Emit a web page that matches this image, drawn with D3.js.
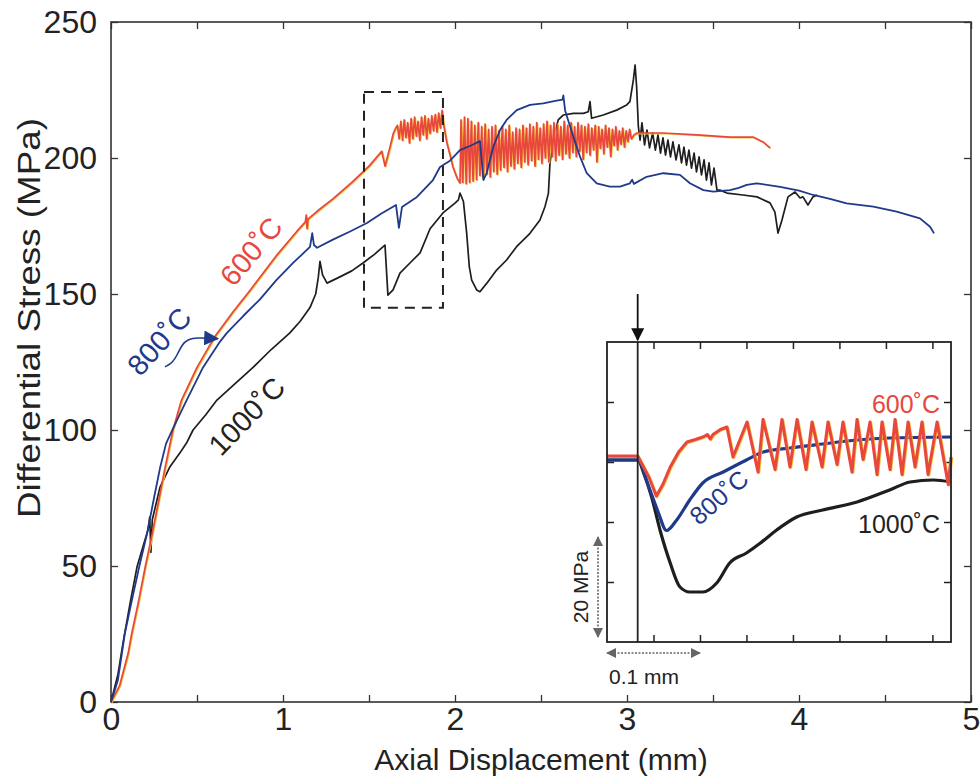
<!DOCTYPE html>
<html><head><meta charset="utf-8">
<script src="https://cdn.jsdelivr.net/npm/d3@7"></script>
<style>
body{margin:0;background:#fff}
text{font-family:"Liberation Sans",Arial,Helvetica,sans-serif}
</style></head>
<body><svg id="c" width="980" height="779"></svg>
<script>
// ---------- axis definitions ----------
const xTicks = [0,0.5,1,1.5,2,2.5,3,3.5,4,4.5,5];
const xLabelTicks = [0,1,2,3,4,5];
const yTicks = [0,50,100,150,200,250];
const xTitle = "Axial Displacement (mm)";
const yTitle = "Differential Stress (MPa)";

// ---------- main series: [displacement mm, stress MPa] ----------
const red600 = [
[0,0],[0.05,6],[0.1,18],[0.12,25],[0.16,37],[0.2,50],[0.24,62],[0.28,75],[0.314,86],[0.36,100],
[0.41,111],[0.5,123],[0.605,134.5],[0.71,143.5],[0.81,151.5],[0.96,164],[1.08,173],[1.13,176.5],
[1.135,179],[1.14,174],[1.145,177.5],[1.2,180.5],[1.29,185],[1.4,191],[1.5,197],[1.574,202.5],
[1.593,197],[1.622,204],[1.641,209],[1.655,211],
[1.665,212],[1.675,207],[1.685,213.5],[1.695,206.5],[1.705,214],[1.715,207.5],[1.725,213],[1.735,205.5],
[1.745,214.5],[1.755,207],[1.765,215],[1.775,208],[1.785,213.5],[1.795,206.5],[1.805,215],[1.815,208.5],
[1.825,215.5],[1.835,207],[1.845,214.5],[1.855,209],[1.865,215.5],[1.875,210],[1.885,216],[1.895,209.5],
[1.905,216.5],[1.915,211],[1.925,217.5],[1.932,213],
[1.953,205.5],[1.971,201.1],[1.988,196.7],[2.012,192.6],[2.029,190.8],
[2.035,214],[2.045,191],[2.055,215],[2.065,190.5],[2.075,214.5],[2.085,191],[2.095,213.5],[2.105,191.5],
[2.115,212],[2.125,192],[2.135,213],[2.145,193.5],[2.155,211.5],[2.165,192.5],[2.175,212.5],[2.185,194],
[2.195,210.5],[2.205,193],[2.215,211.5],[2.225,195],[2.235,212],[2.245,194],[2.255,210],[2.265,195.5],
[2.275,211.5],[2.285,196.5],[2.295,210.5],[2.305,195],[2.315,212],[2.325,197],[2.335,209.5],[2.345,196],
[2.355,211],[2.365,198],[2.375,210.5],[2.385,196.5],[2.395,212],[2.405,198.5],[2.415,211],[2.425,197.5],
[2.435,212.5],[2.445,199],[2.455,211.5],[2.465,197],[2.475,213],[2.485,199.5],[2.495,211],[2.505,198],
[2.515,212.5],[2.525,200],[2.535,213.5],[2.545,198.5],[2.555,212],[2.565,200.5],[2.575,213],[2.585,199],
[2.595,212.5],[2.605,201],[2.615,211.5],[2.625,199.5],[2.635,213.5],[2.645,201.5],[2.655,212],[2.665,200],
[2.675,213],[2.685,202],[2.695,211.5],[2.705,200.5],[2.715,213],[2.725,202.5],[2.735,212],[2.745,199.5],
[2.755,211.5],[2.765,202],[2.775,212.5],[2.785,201],[2.795,211],[2.805,203],[2.815,212],[2.825,198.5],
[2.835,211.5],[2.845,203.5],[2.855,210.5],[2.865,201.5],[2.875,212],[2.885,204],[2.895,211],[2.905,200.5],
[2.915,210.5],[2.925,204.5],[2.935,211.5],[2.945,203],[2.955,210],[2.965,205],[2.975,211],[2.985,204],
[2.995,210],[3.005,206],[3.015,210.5],[3.025,207],
[3.04,208.5],[3.058,209.2],[3.209,209.2],[3.407,208.5],[3.599,207.7],[3.733,207.7],[3.791,205.9],[3.831,203.7]
];
const blue800 = [
[0,0],[0.04,8],[0.08,25],[0.12,37],[0.165,50],[0.21,62],[0.25,75],[0.285,86],[0.32,95],[0.36,100.5],
[0.44,111],[0.535,123],[0.634,132.5],[0.674,135.7],[0.77,142],[0.866,148],[0.96,155],[1.06,161.5],[1.157,167.3],
[1.17,172.4],[1.18,168],[1.198,167],[1.29,170],[1.39,173],[1.488,176.1],[1.57,179.5],[1.657,182.7],[1.674,174.3],
[1.692,182],[1.779,185.7],[1.872,191.9],[1.913,196.7],[1.971,199],[2.029,202.9],[2.09,204.5],[2.145,206.2],
[2.165,191.9],[2.184,194.4],[2.223,204.2],[2.262,210.3],[2.3,214],[2.359,217.6],[2.436,219.5],[2.513,220.1],
[2.591,221.1],[2.625,221.5],[2.63,223],[2.64,217.5],[2.688,207.8],[2.727,200.5],[2.766,194.4],[2.824,190.7],
[2.9,189.5],[2.959,189.5],[3.017,190.7],[3.03,192],[3.04,190.5],[3.114,193.1],[3.211,194.4],[3.308,193.8],
[3.366,190.7],[3.444,188.2],[3.502,187.6],[3.599,188.2],[3.65,189],[3.696,190.1],[3.754,190.7],[3.89,189.4],
[4.0,188],[4.083,186.4],[4.18,185],[4.277,183.3],[4.432,182.1],[4.568,180.3],[4.703,177.8],[4.762,174.7],[4.785,172.3]
];
const black1000 = [
[0,0],[0.04,10],[0.07,21.7],[0.11,36],[0.151,49.6],[0.19,58],[0.215,63.2],[0.225,68],[0.232,55],[0.24,67],
[0.285,79],[0.343,86.5],[0.4,91.5],[0.442,95.5],[0.477,100],[0.55,105.5],[0.616,111],[0.72,117],[0.826,123],
[0.93,129.5],[1.04,135.7],[1.1,140],[1.157,145],[1.19,150],[1.205,156],[1.215,162],[1.23,157],[1.256,154],
[1.331,156.3],[1.4,158.5],[1.465,161.4],[1.53,164.5],[1.581,167.3],[1.593,168],[1.61,149.6],[1.64,151.5],
[1.68,157.7],[1.738,161.4],[1.797,165.1],[1.855,174],[1.93,179.8],[2.0,183.4],[2.02,184.6],[2.029,187.1],
[2.049,184],[2.068,172.3],[2.083,160.1],[2.097,155.1],[2.126,151.5],[2.145,150.8],[2.184,153.9],[2.242,158.8],
[2.3,162.5],[2.358,167.4],[2.436,172.3],[2.494,177.2],[2.523,182.1],[2.543,187],[2.552,198],[2.571,206.6],
[2.6,214],[2.629,215.8],[2.688,216.4],[2.746,216.4],[2.775,217],[2.785,220.7],[2.794,214.6],[2.862,215.8],
[2.94,217.6],[2.998,219.5],[3.017,220.7],[3.037,228.7],[3.047,234.2],[3.056,226.2],[3.066,211.5],[3.076,206.6],
[3.087,212.9],[3.102,204.8],[3.116,210.3],[3.131,203.7],[3.149,209.2],[3.165,202.9],[3.18,208.5],[3.195,201.8],
[3.209,207.4],[3.224,201.1],[3.238,206.6],[3.253,200.4],[3.267,205.9],[3.285,199.3],[3.302,204.8],[3.317,198.2],
[3.331,204],[3.346,197.4],[3.36,202.9],[3.375,196.3],[3.39,201.8],[3.404,194.9],[3.419,200.4],[3.433,193.8],
[3.448,199.3],[3.462,191.9],[3.477,198.2],[3.491,190.1],[3.506,196.3],[3.523,188.2],[3.541,188.2],[3.581,187.1],
[3.674,186.4],[3.756,185.7],[3.831,183.5],[3.86,180.1],[3.878,172.4],[3.901,177.2],[3.936,185.7],[3.977,187.5],
[4.006,185.3],[4.023,185.7],[4.052,182.7],[4.081,185.7],[4.105,186.4]
];

// ---------- inset series: [relative displacement mm, relative stress MPa] ----------
const insetXTicks = [0.05,0.1,0.15,0.2,0.25,0.3,0.35];
const insetYTicks = [12,24,36,48];
const insetOnset = 0.033;
const insetRed = [
[0,37.2],[0.033,37.2],[0.045,33],[0.053,29.2],[0.06,31.5],[0.068,35],[0.077,38],[0.086,40],[0.095,40.5],
[0.103,41],[0.108,41.5],[0.111,40.6],[0.114,41.5],[0.122,42.5],[0.129,43],[0.1355,37],[0.1506,44],[0.1624,34],
[0.1678,44.5],[0.1807,34.5],[0.1882,44.5],[0.1968,35],[0.2044,44.5],[0.214,34.5],[0.2205,44],[0.2313,35],
[0.2377,44],[0.2474,35.5],[0.2538,44],[0.2635,34],[0.2689,44.5],[0.2754,36.5],[0.2829,44],[0.2904,33.5],
[0.2958,44],[0.3044,34.5],[0.3098,44.5],[0.3173,33.5],[0.3238,44],[0.3313,35],[0.3388,44],[0.3453,33.5],
[0.355,44],[0.367,31.5],[0.37,37]
];
const insetBlue = [
[0,36.4],[0.033,36.4],[0.045,31],[0.055,26],[0.064,22.3],[0.075,24.4],[0.089,28.4],[0.103,31.8],[0.125,34],
[0.15,36.4],[0.168,38],[0.197,38.8],[0.232,39.6],[0.269,40.4],[0.304,40.8],[0.37,41]
];
const insetBlack = [
[0,36.4],[0.033,36.4],[0.04,33.5],[0.048,29],[0.057,22.4],[0.068,15.8],[0.0785,11],[0.089,10],[0.103,10],
[0.118,11.8],[0.132,15.8],[0.15,17.8],[0.165,19.8],[0.1825,22.4],[0.204,25],[0.232,26.4],[0.269,28],
[0.304,30.4],[0.326,32],[0.351,32.4],[0.37,32]
];

// annotations (data coordinates)
const zoomBox = {x0:1.471, x1:1.930, y0:144.9, y1:224.3};
const labels = [
 {t:"600˚C", x:0.826, y:165.1, rot:-50, c:"#e8473d"},
 {t:"800˚C", x:0.291, y:132, rot:-48, c:"#1f3a8a"},
 {t:"1000˚C", x:0.8, y:104.5, rot:-46, c:"#222"}
];
const leader800 = [[0.314,123.2],[0.36,124.8],[0.39,128.3],[0.413,131.3],[0.445,133.3],[0.5,134],[0.62,133.6]];

const RED="#e8473d", YEL="#f3c13a", BLUE="#1f3a8a", BLK="#1e1e1e";

// ---------- draw ----------
const svg = d3.select("#c");
const L=111,R=971,T=22,B=702;
const x = d3.scaleLinear().domain([0,5]).range([L,R]);
const y = d3.scaleLinear().domain([0,250]).range([B,T]);

const defs = svg.append("defs");
function marker(id,color,w,h){
  defs.append("marker").attr("id",id).attr("viewBox","0 0 10 10").attr("refX",9).attr("refY",5)
   .attr("markerWidth",w).attr("markerHeight",h).attr("orient","auto-start-reverse").attr("markerUnits","userSpaceOnUse")
   .append("path").attr("d","M0,0 L10,5 L0,10 z").attr("fill",color);
}
marker("arrBlue",BLUE,15,15);
marker("arrBlk","#111",13,16);
marker("arrGray","#666",11,10);

// axes (ticks inward)
const fontTick = "32px";
const gx = svg.append("g").attr("transform",`translate(0,${B})`)
  .call(d3.axisBottom(x).tickValues(xTicks).tickSize(-7).tickPadding(5)
  .tickFormat(d=> xLabelTicks.includes(d)? d3.format("d")(d):""));
const gxt = svg.append("g").attr("transform",`translate(0,${T})`)
  .call(d3.axisTop(x).tickValues(xTicks).tickSize(-7).tickFormat(""));
const gy = svg.append("g").attr("transform",`translate(${L},0)`)
  .call(d3.axisLeft(y).tickValues(yTicks).tickSize(-7).tickPadding(14));
const gyr = svg.append("g").attr("transform",`translate(${R},0)`)
  .call(d3.axisRight(y).tickValues(yTicks).tickSize(-7).tickFormat(""));
[gx,gxt,gy,gyr].forEach(g=>{
  g.select(".domain").remove();
  g.selectAll(".tick line").attr("stroke","#333").attr("stroke-width",1.3);
  g.selectAll("text").attr("font-size",fontTick).attr("fill","#222")
   .attr("font-family","'Liberation Sans',Arial,sans-serif");
});
svg.append("rect").attr("x",L).attr("y",T).attr("width",R-L).attr("height",B-T)
  .attr("fill","none").attr("stroke","#333").attr("stroke-width",1.6);

svg.append("text").attr("x",(L+R)/2).attr("y",770).attr("text-anchor","middle")
  .attr("font-size","30px").attr("fill","#222").text(xTitle);
svg.append("text").attr("transform",`translate(40,${318}) rotate(-90)`).attr("text-anchor","middle")
  .attr("font-size","32px").attr("textLength",400).attr("lengthAdjust","spacingAndGlyphs")
  .attr("fill","#222").text(yTitle);

const line = d3.line().x(d=>x(d[0])).y(d=>y(d[1]));

// main curves
svg.append("path").datum(black1000).attr("d",line).attr("fill","none").attr("stroke",BLK).attr("stroke-width",1.7).attr("stroke-linejoin","round");
svg.append("path").datum(red600).attr("d",line).attr("transform","translate(0.9,0.7)").attr("fill","none").attr("stroke",YEL).attr("stroke-width",1.4).attr("stroke-linejoin","round");
svg.append("path").datum(red600).attr("d",line).attr("fill","none").attr("stroke",RED).attr("stroke-width",1.7).attr("stroke-linejoin","round");
svg.append("path").datum(blue800).attr("d",line).attr("fill","none").attr("stroke",BLUE).attr("stroke-width",1.8).attr("stroke-linejoin","round");

// dashed zoom box
svg.append("rect").attr("x",x(zoomBox.x0)).attr("y",y(zoomBox.y1))
  .attr("width",x(zoomBox.x1)-x(zoomBox.x0)).attr("height",y(zoomBox.y0)-y(zoomBox.y1))
  .attr("fill","none").attr("stroke","#222").attr("stroke-width",2).attr("stroke-dasharray","10,7");

// labels
labels.forEach(l=>{
  svg.append("text").attr("transform",`translate(${x(l.x)},${y(l.y)}) rotate(${l.rot})`)
   .attr("text-anchor","middle").attr("dominant-baseline","middle").attr("font-size","29px").attr("fill",l.c).text(l.t);
});
svg.append("path").datum(leader800).attr("d",d3.line().x(d=>x(d[0])).y(d=>y(d[1])).curve(d3.curveBasis))
  .attr("fill","none").attr("stroke",BLUE).attr("stroke-width",1.6).attr("marker-end","url(#arrBlue)");

// ---------- inset ----------
const xi = d3.scaleLinear().domain([0,0.37]).range([607,951]);
const yi = d3.scaleLinear().domain([0,60]).range([642,342]);
svg.append("rect").attr("x",607).attr("y",342).attr("width",344).attr("height",300).attr("fill","#fff");
const ib = svg.append("g").attr("transform","translate(0,642)").call(d3.axisBottom(xi).tickValues(insetXTicks).tickSize(-7).tickFormat(""));
const it = svg.append("g").attr("transform","translate(0,342)").call(d3.axisTop(xi).tickValues(insetXTicks).tickSize(-7).tickFormat(""));
const il = svg.append("g").attr("transform","translate(607,0)").call(d3.axisLeft(yi).tickValues(insetYTicks).tickSize(-7).tickFormat(""));
const ir = svg.append("g").attr("transform","translate(951,0)").call(d3.axisRight(yi).tickValues(insetYTicks).tickSize(-7).tickFormat(""));
[ib,it,il,ir].forEach(g=>{g.select(".domain").remove();g.selectAll(".tick line").attr("stroke","#222").attr("stroke-width",1.5);});

const iline = d3.line().x(d=>xi(d[0])).y(d=>yi(d[1]));
const ismooth = d3.line().x(d=>xi(d[0])).y(d=>yi(d[1])).curve(d3.curveMonotoneX);
svg.append("path").datum(insetBlack).attr("d",ismooth).attr("fill","none").attr("stroke",BLK).attr("stroke-width",3.2).attr("stroke-linejoin","round");
svg.append("path").datum(insetBlue).attr("d",ismooth).attr("fill","none").attr("stroke",BLUE).attr("stroke-width",3.2).attr("stroke-linejoin","round");
svg.append("path").datum(insetRed).attr("d",iline).attr("transform","translate(0.8,0.6)").attr("fill","none").attr("stroke",YEL).attr("stroke-width",3).attr("stroke-linejoin","round");
svg.append("path").datum(insetRed).attr("d",iline).attr("fill","none").attr("stroke",RED).attr("stroke-width",3).attr("stroke-linejoin","round");

svg.append("rect").attr("x",607).attr("y",342).attr("width",344).attr("height",300)
  .attr("fill","none").attr("stroke","#222").attr("stroke-width",1.8);
// onset line and arrow
svg.append("line").attr("x1",xi(insetOnset)).attr("x2",xi(insetOnset)).attr("y1",342).attr("y2",642)
  .attr("stroke","#222").attr("stroke-width",1.8);
svg.append("line").attr("x1",xi(insetOnset)).attr("x2",xi(insetOnset)).attr("y1",294).attr("y2",340)
  .attr("stroke","#111").attr("stroke-width",1.8).attr("marker-end","url(#arrBlk)");

// inset labels
svg.append("text").attr("x",940).attr("y",413).attr("text-anchor","end").attr("font-size","25px").attr("fill",RED).text("600˚C");
svg.append("text").attr("x",940).attr("y",533).attr("text-anchor","end").attr("font-size","25px").attr("fill","#222").text("1000˚C");
svg.append("text").attr("transform",`translate(${xi(0.122)},${yi(28.6)}) rotate(-41)`).attr("text-anchor","middle")
  .attr("dominant-baseline","middle").attr("font-size","25px").attr("fill",BLUE).text("800˚C");

// scale bars
svg.append("line").attr("x1",598).attr("x2",598).attr("y1",yi(1)).attr("y2",yi(21))
  .attr("stroke","#666").attr("stroke-width",1.6).attr("stroke-dasharray","2,1.5")
  .attr("marker-start","url(#arrGray)").attr("marker-end","url(#arrGray)");
svg.append("text").attr("transform",`translate(588,${yi(11)}) rotate(-90)`).attr("text-anchor","middle")
  .attr("font-size","21px").attr("fill","#222").text("20 MPa");
svg.append("line").attr("x1",xi(0)).attr("x2",xi(0.1)).attr("y1",653).attr("y2",653)
  .attr("stroke","#666").attr("stroke-width",1.6).attr("stroke-dasharray","2,1.5")
  .attr("marker-start","url(#arrGray)").attr("marker-end","url(#arrGray)");
svg.append("text").attr("x",xi(0)+2).attr("y",684).attr("font-size","21px").attr("fill","#222").text("0.1 mm");
</script></body></html>
